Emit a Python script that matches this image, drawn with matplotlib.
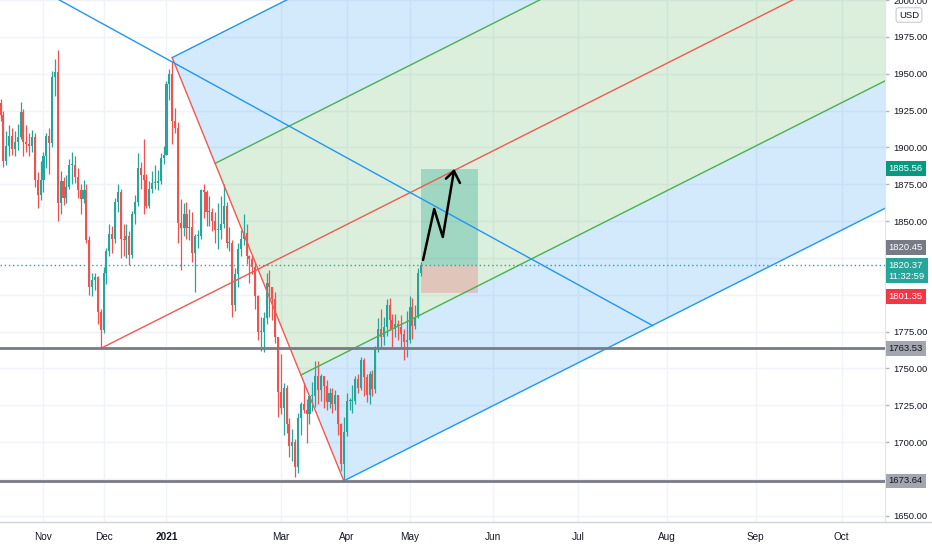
import matplotlib
matplotlib.use("Agg")
import matplotlib.pyplot as plt
import numpy as np
import pandas as pd
from matplotlib.patches import Polygon, Rectangle
from matplotlib.lines import Line2D

# ---- daily XAUUSD candles, Oct 12 2020 .. May 7 2021 (no bars on Dec 25 / Jan 1)
first_day = "2020-10-12"
last_day = "2021-05-07"
holidays = ["2020-12-25", "2021-01-01"]

opens = [
    # Oct
    1930, 1922, 1891, 1901, 1908, 1899, 1904, 1907, 1924, 1904, 1902, 1901, 1907, 1878, 1868,
    # Nov
    1878, 1894, 1908, 1903, 1948, 1951, 1862, 1877, 1866, 1873, 1888, 1888, 1880, 1871, 1865,
    1871, 1837, 1805, 1810, 1812, 1788,
    # Dec
    1776, 1815, 1830, 1841, 1838, 1863, 1870, 1838, 1837, 1840, 1827, 1855, 1863, 1886, 1881,
    1878, 1860, 1872, 1876, 1876, 1877, 1893,
    # Jan
    1895, 1943, 1950, 1918, 1913, 1849, 1845, 1855, 1845, 1846, 1828, 1840, 1840, 1871, 1870,
    1856, 1856, 1850, 1844, 1844,
    # Feb
    1848, 1860, 1835, 1835, 1793, 1814, 1831, 1838, 1842, 1826, 1824, 1819, 1799, 1775, 1775,
    1784, 1808, 1805, 1797, 1771,
    # Mar
    1734, 1723, 1737, 1712, 1697, 1700, 1683, 1716, 1726, 1722, 1719, 1731, 1731, 1745, 1735,
    1745, 1738, 1727, 1733, 1726, 1732, 1712, 1685,
    # Apr
    1707, 1728, 1728, 1728, 1743, 1737, 1756, 1744, 1732, 1746, 1736, 1764, 1777, 1771, 1778,
    1793, 1783, 1777, 1780, 1778, 1773, 1768,
    # May
    1769, 1792, 1779, 1785, 1815,
]
highs = [
    1933, 1925, 1911, 1915, 1913, 1911, 1916, 1931, 1926, 1915, 1910, 1912, 1910, 1883, 1891,
    1897, 1910, 1913, 1952, 1960, 1966, 1884, 1880, 1881, 1892, 1897, 1894, 1886, 1875, 1878,
    1875, 1840, 1815, 1815, 1813, 1790,
    1819, 1832, 1848, 1847, 1866, 1875, 1872, 1848, 1848, 1843, 1857, 1868, 1896, 1890, 1906,
    1882, 1877, 1884, 1888, 1885, 1896, 1901,
    1945, 1953, 1959, 1927, 1917, 1865, 1862, 1863, 1858, 1856, 1841, 1844, 1872, 1875, 1871,
    1867, 1859, 1856, 1862, 1867,
    1875, 1863, 1846, 1837, 1818, 1835, 1844, 1855, 1848, 1827, 1827, 1822, 1800, 1785, 1788,
    1815, 1817, 1805, 1802, 1771,
    1760, 1740, 1739, 1716, 1709, 1702, 1720, 1727, 1740, 1729, 1732, 1741, 1755, 1755, 1746,
    1745, 1742, 1737, 1737, 1735, 1732, 1713, 1717,
    1733, 1730, 1739, 1745, 1746, 1758, 1757, 1746, 1748, 1749, 1765, 1784, 1790, 1785, 1797,
    1798, 1787, 1787, 1783, 1786, 1777, 1789,
    1799, 1798, 1793, 1818, 1822,
]
lows = [
    1918, 1887, 1888, 1894, 1895, 1894, 1898, 1906, 1894, 1897, 1894, 1897, 1873, 1859, 1864,
    1870, 1886, 1882, 1900, 1935, 1850, 1855, 1861, 1862, 1872, 1875, 1876, 1866, 1855, 1862,
    1835, 1800, 1799, 1803, 1780, 1763.53,
    1774, 1807, 1826, 1828, 1835, 1856, 1825, 1826, 1825, 1820, 1825, 1848, 1860, 1872, 1855,
    1859, 1859, 1869, 1872, 1871, 1875, 1889,
    1895, 1932, 1902, 1910, 1835, 1817, 1840, 1838, 1837, 1822, 1802, 1832, 1838, 1852, 1847,
    1847, 1843, 1835, 1831, 1838,
    1845, 1832, 1830, 1785, 1789, 1805, 1826, 1834, 1821, 1808, 1814, 1790, 1769, 1762, 1761,
    1780, 1785, 1783, 1767, 1717,
    1719, 1705, 1706, 1690, 1687, 1676, 1679, 1705, 1720, 1699, 1712, 1721, 1724, 1726, 1728,
    1723, 1722, 1723, 1720, 1722, 1705, 1680, 1673.64,
    1704, 1722, 1720, 1726, 1733, 1735, 1731, 1727, 1726, 1731, 1733, 1761, 1764, 1766, 1772,
    1776, 1764, 1771, 1769, 1764, 1756, 1758,
    1767, 1770, 1777, 1784, 1813,
]
closes = [
    1922, 1891, 1901, 1908, 1899, 1904, 1907, 1924, 1904, 1902, 1901, 1907, 1878, 1868, 1878,
    1894, 1908, 1903, 1948, 1951, 1862, 1877, 1866, 1873, 1888, 1888, 1880, 1871, 1865, 1871,
    1837, 1805, 1810, 1812, 1788, 1776,
    1815, 1830, 1841, 1838, 1863, 1870, 1838, 1837, 1840, 1827, 1855, 1863, 1886, 1881, 1878,
    1860, 1872, 1876, 1876, 1877, 1893, 1895,
    1943, 1950, 1918, 1913, 1849, 1845, 1855, 1845, 1846, 1828, 1840, 1840, 1871, 1870, 1856,
    1856, 1850, 1844, 1844, 1848,
    1860, 1835, 1835, 1793, 1814, 1831, 1838, 1842, 1826, 1824, 1819, 1799, 1775, 1775, 1784,
    1808, 1805, 1797, 1771, 1734,
    1723, 1737, 1712, 1697, 1700, 1683, 1716, 1726, 1722, 1719, 1731, 1731, 1745, 1735, 1745,
    1738, 1727, 1733, 1726, 1732, 1712, 1685, 1707,
    1728, 1728, 1728, 1743, 1737, 1756, 1744, 1732, 1746, 1736, 1764, 1777, 1771, 1778, 1793,
    1783, 1777, 1780, 1778, 1773, 1768, 1769,
    1792, 1779, 1785, 1815, 1820.37,
]

# x axis labels (first bar of the month; future months on calendar days)
tick_dates = ["2020-11-02", "2020-12-01", "2021-01-04", "2021-03-01", "2021-04-01", "2021-05-03",
              "2021-06-01", "2021-07-01", "2021-08-01", "2021-09-01", "2021-10-01"]
tick_labels = ["Nov", "Dec", "2021", "Mar", "Apr", "May", "Jun", "Jul", "Aug", "Sep", "Oct"]

# drawings
pitch_a = ("2021-01-06", 1961.0)     # upper pivot
pitch_b = ("2020-11-30", 1763.53)    # handle
pitch_c = ("2021-03-31", 1673.64)    # lower pivot
trend_pts = [("2020-10-12", 2022.0), ("2021-07-27", 1779.0)]
hlines = [1763.53, 1673.64]
last_price = 1820.37
countdown = "11:32:59"
entry, target, stop = 1820.45, 1885.56, 1801.35
pos_start, pos_end = "2021-05-07", "2021-05-27"
arrow_x = [147.7, 151.6, 154.6, 158.5]
arrow_y = [1823.6, 1858.2, 1839.2, 1884.0]
arrow_wings = [(155.7, 1878.8), (160.6, 1875.9)]

UP, DOWN = "#26a69a", "#ef5350"
BLUE, GREEN, RED = "#2196f3", "#4caf50", "#f05a50"
FS = 6.8

plt.rcParams["font.family"] = ["Liberation Sans", "DejaVu Sans"]

dates = pd.bdate_range(first_day, last_day).drop(pd.to_datetime(holidays))
n = len(dates)


def bar_pos(d):
    d = pd.Timestamp(d)
    if d <= dates[-1]:
        return float(dates.searchsorted(d))
    return (n - 1) + (d - dates[-1]).days


fig = plt.figure(figsize=(9.32, 5.5), dpi=100)
ax = fig.add_axes([0, 28 / 550, 885 / 932, 522 / 550])
ax.set_xlim(-0.2, 309.2)
ax.set_ylim(1645.7, 2000.1)

# ---- pitchfork fills and lines
A = np.array([bar_pos(pitch_a[0]), pitch_a[1]])
B = np.array([bar_pos(pitch_b[0]), pitch_b[1]])
C = np.array([bar_pos(pitch_c[0]), pitch_c[1]])
M = (A + C) / 2
d = (M - B) / (M[0] - B[0])
far = 500


def on_ac(f):
    return A + f * (C - A)


for f1, f2, col in [(0, 0.25, BLUE), (0.25, 0.75, GREEN), (0.75, 1, BLUE)]:
    p1, p2 = on_ac(f1), on_ac(f2)
    poly = Polygon([p1, p2, p2 + far * d, p1 + far * d], closed=True,
                   facecolor=col, alpha=0.2, edgecolor="none", zorder=1)
    ax.add_patch(poly)

for f, col in [(0, BLUE), (0.25, GREEN), (0.75, GREEN), (1, BLUE)]:
    p = on_ac(f)
    ax.plot([p[0], p[0] + far * d[0]], [p[1], p[1] + far * d[1]], color=col, lw=1, zorder=4)
ax.plot([B[0], B[0] + far * d[0]], [B[1], B[1] + far * d[1]], color=RED, lw=1, zorder=4)
ax.plot([A[0], C[0]], [A[1], C[1]], color=RED, lw=1, zorder=4)

# trend line
ax.plot([bar_pos(t[0]) for t in trend_pts], [t[1] for t in trend_pts], color=BLUE, lw=1, zorder=4)

# ---- candles
o = np.array(opens, dtype=float)
h = np.array(highs, dtype=float)
l = np.array(lows, dtype=float)
c = np.array(closes, dtype=float)
x = np.arange(n)
cols = np.where(c >= o, UP, DOWN)
ax.vlines(x, l, h, colors=cols, lw=0.9, zorder=3)
body = np.maximum(np.abs(c - o), 0.6)
ax.bar(x, body, bottom=np.minimum(o, c), width=0.72, color=cols, zorder=3, linewidth=0)

# horizontal levels
for lvl in hlines:
    ax.axhline(lvl, color="#787b86", lw=2, zorder=4)
ax.axhline(last_price, color=UP, lw=1, ls=(0, (1, 2)), zorder=4)

# long position tool
x0, x1 = bar_pos(pos_start), bar_pos(pos_end)
ax.add_patch(Rectangle((x0, entry), x1 - x0, target - entry, facecolor="#089981",
                       alpha=0.28, edgecolor="none", zorder=2))
ax.add_patch(Rectangle((x0, stop), x1 - x0, entry - stop, facecolor="#f23645",
                       alpha=0.22, edgecolor="none", zorder=2))

# hand drawn arrow
ax.plot(arrow_x, arrow_y, color="black", lw=1.8, zorder=6, solid_capstyle="round")
for wx, wy in arrow_wings:
    ax.plot([arrow_x[-1], wx], [arrow_y[-1], wy], color="black", lw=1.8, zorder=6,
            solid_capstyle="round")

# ---- axes styling
for s in ["top", "left", "bottom"]:
    ax.spines[s].set_visible(False)
ax.spines["right"].set_color("#e0e3eb")

ax.set_xticks([bar_pos(t) for t in tick_dates])
ax.set_xticklabels(tick_labels)
for lab in ax.get_xticklabels():
    if lab.get_text() == "2021":
        lab.set_fontweight("bold")
ax.tick_params(axis="x", length=0, pad=7, labelsize=FS + 0.4, labelcolor="#131722")

yt = list(range(1650, 2001, 25))
hidden = {1675, 1800, 1825}
ax.set_yticks(yt)
ax.set_yticklabels(["" if v in hidden else f"{v:.2f}" for v in yt])
ax.yaxis.tick_right()
ax.tick_params(axis="y", length=3, width=1, color="#b2b5be", pad=3, labelsize=FS,
               labelcolor="#131722")
ax.grid(True, color="#f0f3fa", lw=1, zorder=0)
ax.set_axisbelow(True)

fig.add_artist(Line2D([0, 1], [28 / 550, 28 / 550], transform=fig.transFigure,
                      color="#d1d4dc", lw=1))


def price_tag(price, text, bg, fg, dy=0):
    ax.annotate(text, xy=(1, price), xycoords=("axes fraction", "data"),
                xytext=(2.6, dy), textcoords="offset points", ha="left", va="center",
                fontsize=FS, color=fg, linespacing=1.3, annotation_clip=False, zorder=10,
                bbox=dict(boxstyle="square,pad=0.3", fc=bg, ec="none"))


price_tag(target, f"{target:.2f}", "#089981", "white")
price_tag(entry, f"{entry:.2f}", "#787b86", "white", dy=12.5)
price_tag(last_price, f"{last_price:.2f}\n{countdown}", UP, "white", dy=-4.2)
price_tag(stop, f"{stop:.2f}", "#f23645", "white", dy=-2.6)
for lvl in hlines:
    price_tag(lvl, f"{lvl:.2f}", "#a3a6af", "#131722")

fig.text(909 / 932, 1 - 15 / 550, "USD", ha="center", va="center", fontsize=FS,
         color="#131722",
         bbox=dict(boxstyle="round,pad=0.3,rounding_size=0.3", fc="white", ec="#d1d4dc"))

fig.savefig("out.png", dpi=100)
